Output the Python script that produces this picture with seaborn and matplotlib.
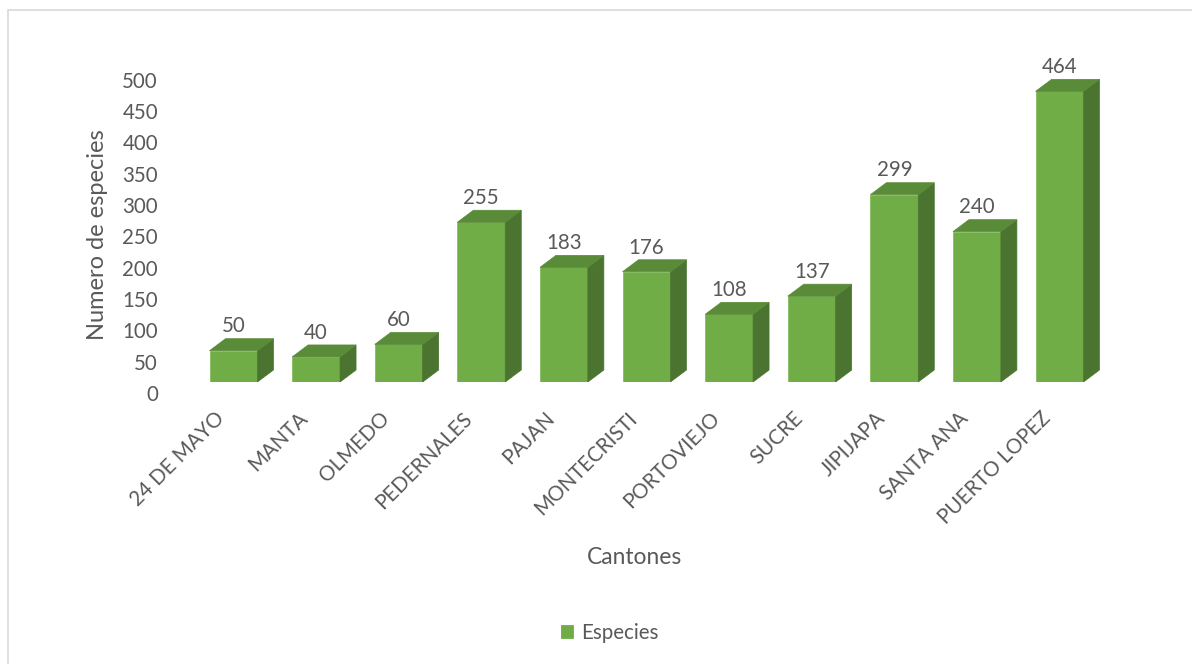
import matplotlib
matplotlib.use("Agg")
import matplotlib.pyplot as plt
import matplotlib.transforms as mtransforms
from matplotlib.patches import Polygon, Rectangle
import seaborn as sns
import pandas as pd

# ---- data ----
cantones = ["24 DE MAYO", "MANTA", "OLMEDO", "PEDERNALES", "PAJAN", "MONTECRISTI",
            "PORTOVIEJO", "SUCRE", "JIPIJAPA", "SANTA ANA", "PUERTO LOPEZ"]
especies = [50, 40, 60, 255, 183, 176, 108, 137, 299, 240, 464]
y_ticks = [0, 50, 100, 150, 200, 250, 300, 350, 400, 450, 500]
series_name = "Especies"

df = pd.DataFrame({"Cantones": cantones, "Especies": especies})

FRONT = "#70AD47"
TOP = "#5A8B38"
SIDE = "#4A7430"
TEXT = "#595959"

sns.set_theme(style="white")
plt.rcParams["font.family"] = ["Lato", "DejaVu Sans"]

W, H, DPI = 1192, 664, 100
fig = plt.figure(figsize=(W / DPI, H / DPI), dpi=DPI)
fig.patch.set_facecolor("white")

# axes placement (pixels from top-left)
left_px, right_px, bottom_px, top_px = 192, 1110, 382, 50
ax = fig.add_axes([left_px / W, 1 - bottom_px / H,
                   (right_px - left_px) / W, (bottom_px - top_px) / H])

sns.barplot(data=df, x="Cantones", y="Especies", color=FRONT, width=0.58,
            saturation=1, edgecolor="#86BC62", linewidth=0.6, label=series_name, ax=ax)

ax.set_xlim(-0.5024, 10.611)
ax.set_ylim(0, 530)
ax.set_yticks(y_ticks)
ax.set_yticklabels([str(v) for v in y_ticks])
for s in ax.spines.values():
    s.set_visible(False)
ax.set_facecolor("none")

# pixel -> data conversions for 3D depth
ax_w_px = right_px - left_px
ax_h_px = bottom_px - top_px
x_per_px = (ax.get_xlim()[1] - ax.get_xlim()[0]) / ax_w_px
y_per_px = (ax.get_ylim()[1] - ax.get_ylim()[0]) / ax_h_px
dx = 16 * x_per_px
dy = 12 * y_per_px

bars = [p for p in ax.patches if isinstance(p, Rectangle)]
for p, v in zip(bars, especies):
    x0, w, h = p.get_x(), p.get_width(), p.get_height()
    top = Polygon([(x0, h), (x0 + w, h), (x0 + w + dx, h + dy), (x0 + dx, h + dy)],
                  closed=True, facecolor=TOP, edgecolor=TOP, lw=0.5, zorder=p.get_zorder())
    side = Polygon([(x0 + w, 0), (x0 + w + dx, dy), (x0 + w + dx, h + dy), (x0 + w, h)],
                   closed=True, facecolor=SIDE, edgecolor=SIDE, lw=0.5, zorder=p.get_zorder())
    ax.add_patch(side)
    ax.add_patch(top)
    ax.annotate(str(v), xy=(x0 + w / 2, h + dy), xytext=(0, 4.5), textcoords="offset points",
                ha="center", va="baseline", fontsize=14.8, color=TEXT)

# ticks
ax.tick_params(axis="y", length=0, pad=24.5, labelsize=14.8, labelcolor=TEXT)
ax.tick_params(axis="x", length=0, pad=19, labelsize=14.8, labelcolor=TEXT)
yoff = mtransforms.ScaledTranslation(0, -11 / DPI, fig.dpi_scale_trans)
for lab in ax.get_yticklabels():
    lab.set_transform(lab.get_transform() + yoff)
xoff = mtransforms.ScaledTranslation(-5 / DPI, 0, fig.dpi_scale_trans)
for lab in ax.get_xticklabels():
    lab.set_rotation(45)
    lab.set_ha("right")
    lab.set_transform(lab.get_transform() + xoff)

# axis titles
ax.set_xlabel("Cantones", fontsize=16.4, color=TEXT, va="center")
ax.xaxis.set_label_coords((635 - left_px) / ax_w_px, (bottom_px - 557) / ax_h_px)
ax.set_ylabel("Numero de especies", fontsize=17, color=TEXT, va="center")
ax.yaxis.set_label_coords((97 - left_px) / ax_w_px, (bottom_px - 235) / ax_h_px)

# legend
leg = ax.legend(loc="center", bbox_to_anchor=(610 / W, 1 - 633 / H),
                bbox_transform=fig.transFigure, frameon=False, fontsize=14.8,
                handlelength=0.6, handleheight=0.6, handletextpad=0.4)
for t in leg.get_texts():
    t.set_color(TEXT)
for hnd in leg.legend_handles:
    hnd.set_edgecolor(FRONT)

# chart-area frame
fig.add_artist(Rectangle((8 / W, -0.2), 1.5, 1.2 - 10 / H, transform=fig.transFigure,
                         fill=False, edgecolor="#D9D9D9", lw=1.2))

fig.savefig("out.png", dpi=DPI)
